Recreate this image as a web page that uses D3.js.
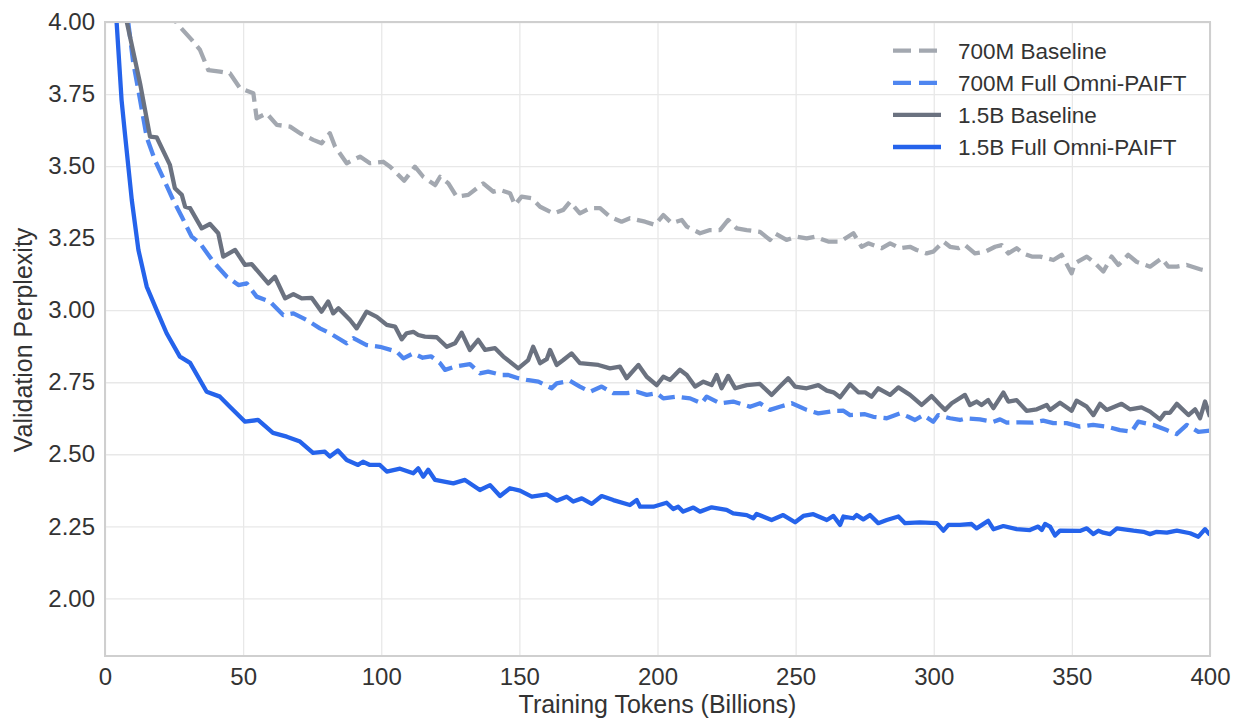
<!DOCTYPE html>
<html>
<head>
<meta charset="utf-8">
<script src="https://cdn.jsdelivr.net/npm/d3@7"></script>
<style>
  html, body { margin: 0; padding: 0; background: #ffffff; }
  svg { display: block; font-family: "Liberation Sans", Arial, Helvetica, sans-serif; }
</style>
</head>
<body>
<svg id="chart" width="1235" height="722"></svg>
<script>
// ---------------- DATA (Training tokens in billions, validation perplexity) ----------------
const seriesNames = ["700M Baseline", "700M Full Omni-PAIFT", "1.5B Baseline", "1.5B Full Omni-PAIFT"];

const base700 = [[12,4.45],[20,4.12],[26.0,3.995],[31.4,3.938],[34.4,3.903],[37.4,3.833],[41.6,3.828],[45.2,3.822],[48.9,3.770],[53.7,3.753],[54.9,3.666],[58.5,3.683],[62.2,3.643],[67.0,3.637],[70.6,3.614],[75.4,3.591],[78.4,3.579],[81.4,3.614],[83.3,3.567],[87.5,3.510],[92.3,3.533],[95.9,3.510],[100.7,3.515],[103.2,3.498],[108.3,3.449],[112.2,3.498],[115.2,3.463],[119.5,3.434],[121.3,3.463],[124.3,3.440],[127.3,3.394],[131.5,3.400],[136.9,3.440],[140.6,3.411],[143.0,3.417],[146.6,3.406],[148.4,3.365],[150.8,3.394],[154.5,3.388],[157.5,3.359],[162.3,3.336],[165.9,3.348],[168.3,3.376],[171.9,3.336],[175.6,3.354],[179.2,3.354],[182.8,3.324],[187.0,3.307],[190.0,3.319],[195.5,3.307],[199.1,3.296],[202.1,3.330],[205.1,3.302],[208.8,3.313],[210.6,3.290],[215.4,3.267],[219.0,3.278],[222.6,3.278],[225.6,3.313],[228.7,3.284],[232.3,3.278],[237.1,3.272],[240.7,3.244],[242.5,3.267],[246.7,3.244],[250.4,3.255],[254.0,3.249],[257.0,3.255],[261.8,3.238],[266.1,3.238],[270.9,3.267],[273.9,3.220],[276.3,3.232],[281.2,3.215],[284.2,3.232],[287.8,3.215],[291.4,3.220],[293.8,3.209],[297.4,3.197],[299.8,3.203],[303.5,3.238],[305.9,3.220],[308.9,3.215],[311.3,3.226],[314.9,3.197],[318.6,3.203],[322.2,3.220],[324.6,3.226],[327.0,3.197],[330.0,3.215],[332.4,3.197],[335.5,3.186],[338.5,3.186],[343.3,3.174],[346.3,3.192],[349.9,3.128],[351.1,3.163],[355.4,3.186],[358.4,3.163],[361.4,3.134],[364.4,3.186],[366.8,3.157],[370.4,3.192],[373.4,3.168],[378.3,3.151],[382.5,3.180],[384.9,3.151],[388.0,3.151],[391.6,3.157],[396.4,3.142],[400,3.134]];

const full700 = [[4,4.5],[8.4,4.0],[10.2,3.86],[12.7,3.73],[15.1,3.60],[18.1,3.52],[21.1,3.458],[24.7,3.382],[27.8,3.324],[31.4,3.255],[34.4,3.232],[39.2,3.168],[44.1,3.116],[48.3,3.087],[51.3,3.093],[54.9,3.047],[59.7,3.030],[64.5,2.983],[68.2,2.989],[73.0,2.966],[77.8,2.937],[81.4,2.920],[87.5,2.885],[89.9,2.903],[94.7,2.879],[99.5,2.873],[105.6,2.856],[108.0,2.833],[111.6,2.850],[115,2.835],[118,2.840],[121.3,2.816],[123.1,2.793],[126.7,2.804],[132.1,2.813],[135.7,2.781],[138.7,2.787],[143.6,2.775],[146.0,2.775],[149.6,2.764],[152.7,2.758],[156.9,2.752],[161.7,2.729],[163.5,2.746],[168.3,2.755],[171.9,2.735],[175.6,2.717],[179.8,2.735],[184.0,2.712],[188.8,2.712],[192.5,2.717],[196.1,2.706],[199.7,2.712],[202.1,2.694],[206.9,2.700],[211.8,2.694],[216.0,2.677],[217.8,2.700],[222.6,2.677],[227.4,2.683],[233.5,2.665],[237.1,2.677],[240.7,2.654],[244.3,2.665],[248.6,2.677],[254.0,2.654],[258.2,2.642],[263.7,2.650],[267.3,2.651],[269.7,2.636],[275.1,2.639],[278.1,2.630],[283.0,2.625],[287.8,2.642],[290.8,2.630],[293.2,2.619],[296.2,2.636],[299.8,2.613],[301.6,2.636],[305.9,2.625],[309.5,2.619],[311.9,2.625],[316.7,2.621],[321.6,2.613],[324.0,2.621],[326.4,2.610],[331.2,2.611],[336.0,2.610],[339.6,2.617],[343.3,2.608],[348.1,2.608],[352.9,2.596],[357.7,2.602],[362.6,2.596],[367.4,2.584],[371.6,2.578],[374.0,2.613],[379.4,2.602],[384.3,2.584],[387.9,2.570],[391.6,2.602],[395.8,2.578],[400,2.582]];

const base15 = [[4,4.45],[7.9,4.0],[12.7,3.787],[16.3,3.602],[18.7,3.600],[23.5,3.504],[25.3,3.423],[27.8,3.400],[29.0,3.359],[30.8,3.354],[35.0,3.284],[38.0,3.299],[41.0,3.267],[42.8,3.186],[47.1,3.209],[50.7,3.157],[53.1,3.160],[59.1,3.093],[61.5,3.116],[65.2,3.041],[68.2,3.056],[71.2,3.041],[74.8,3.043],[78.4,2.995],[80.8,3.030],[82.6,2.989],[84.5,3.007],[88.7,2.966],[91.1,2.937],[94.7,2.995],[98.4,2.977],[102.0,2.949],[105.0,2.943],[107.4,2.899],[109.2,2.920],[111.6,2.925],[113.4,2.914],[115.8,2.908],[120.1,2.906],[123.7,2.873],[126.7,2.885],[129.1,2.922],[132.1,2.862],[135.1,2.897],[137.6,2.862],[141.2,2.868],[144.2,2.839],[149.6,2.798],[153.2,2.827],[155.0,2.873],[157.5,2.816],[159.9,2.830],[161.1,2.862],[163.5,2.810],[165.9,2.827],[168.9,2.850],[171.9,2.816],[178.6,2.810],[182.8,2.798],[186.4,2.804],[188.8,2.764],[193.1,2.810],[196.1,2.769],[199.7,2.740],[202.1,2.769],[204.5,2.758],[208.1,2.793],[210.6,2.775],[213.6,2.735],[216.6,2.752],[219.6,2.740],[221.4,2.775],[223.2,2.729],[225.6,2.772],[228.1,2.729],[232.3,2.740],[237.1,2.744],[241.3,2.706],[244.3,2.735],[247.3,2.764],[249.8,2.735],[254.0,2.729],[258.2,2.740],[261.3,2.721],[263.7,2.715],[266.1,2.698],[269.7,2.743],[272.7,2.715],[275.1,2.715],[277.5,2.700],[279.9,2.729],[284.2,2.706],[287.2,2.732],[291.4,2.706],[295.6,2.671],[299.2,2.702],[302.3,2.671],[304.1,2.654],[306.5,2.677],[311.3,2.706],[313.1,2.671],[315.5,2.683],[317.3,2.671],[319.7,2.688],[321.6,2.660],[325.2,2.714],[327.0,2.683],[330.0,2.688],[333.6,2.651],[337.3,2.656],[340.9,2.671],[342.1,2.654],[345.7,2.679],[349.9,2.651],[351.7,2.686],[355.4,2.665],[357.8,2.636],[360.2,2.675],[362.6,2.654],[368.0,2.675],[371.0,2.656],[375.2,2.663],[378.3,2.648],[381.9,2.621],[383.7,2.644],[385.5,2.644],[388.0,2.675],[392.2,2.636],[394.6,2.656],[396.4,2.625],[398.2,2.683],[400,2.630]];

const full15 = [[2,4.6],[4.2,4.0],[6.0,3.729],[7.2,3.614],[9.7,3.382],[12.1,3.209],[15.1,3.082],[18.7,3.0],[22.3,2.92],[27.1,2.839],[30.8,2.817],[36.8,2.717],[41.6,2.700],[45.2,2.665],[50.7,2.613],[55.4,2.619],[60.8,2.574],[65.8,2.561],[70.6,2.544],[75.3,2.505],[79.6,2.509],[81.4,2.492],[84.3,2.513],[87.5,2.480],[91.6,2.463],[93.4,2.474],[95.9,2.463],[99.5,2.463],[102,2.440],[106.8,2.450],[111.6,2.434],[113.4,2.451],[115.2,2.422],[117.0,2.446],[119.5,2.411],[126.1,2.399],[130.3,2.411],[135.7,2.376],[139.4,2.393],[143.0,2.355],[146.6,2.382],[150.2,2.374],[154.5,2.353],[159.9,2.361],[163.5,2.339],[167.1,2.353],[169.5,2.336],[172.6,2.347],[176.2,2.328],[179.8,2.355],[184.0,2.341],[190.0,2.324],[192.5,2.341],[193.7,2.318],[198.5,2.318],[203.3,2.332],[205.7,2.310],[207.5,2.318],[209.3,2.301],[213.0,2.315],[215.4,2.301],[219.6,2.316],[225.0,2.307],[227.4,2.295],[232.3,2.289],[234.7,2.278],[235.9,2.293],[241.3,2.272],[245.5,2.289],[249.8,2.264],[252.8,2.286],[256.4,2.292],[261.3,2.272],[263.7,2.286],[266.1,2.255],[267.3,2.284],[270.9,2.278],[272.1,2.289],[274.5,2.274],[276.9,2.289],[279.9,2.261],[283.0,2.272],[287.2,2.284],[289.6,2.261],[295.0,2.264],[301.1,2.261],[303.5,2.235],[305.3,2.255],[309.5,2.255],[313.7,2.258],[315.5,2.243],[319.7,2.269],[321.6,2.240],[325.2,2.251],[330.0,2.240],[334.8,2.237],[337.8,2.249],[339.1,2.237],[340.3,2.258],[342.1,2.249],[343.9,2.218],[345.7,2.235],[352.9,2.234],[355.4,2.243],[357.8,2.223],[359.6,2.235],[361.4,2.228],[363.8,2.223],[366.3,2.243],[372.3,2.235],[375.9,2.231],[378.3,2.223],[380.7,2.231],[384.4,2.228],[388.0,2.235],[392.8,2.226],[395.8,2.214],[398.2,2.240],[400,2.220]];

const xTicks = [0, 50, 100, 150, 200, 250, 300, 350, 400];
const yTicks = [2.00, 2.25, 2.50, 2.75, 3.00, 3.25, 3.50, 3.75, 4.00];
const xLabel = "Training Tokens (Billions)";
const yLabel = "Validation Perplexity";

// ---------------- STYLE ----------------
const colors = ["#a3a8b0", "#4f86f0", "#6b7280", "#2563eb"];
const dashed = [true, true, false, false];
const seriesData = [base700, full700, base15, full15];

const plot = { left: 105, right: 1210, top: 22, bottom: 656 };

const svg = d3.select("#chart");
const x = d3.scaleLinear().domain([0, 400]).range([plot.left, plot.right]);
const y = d3.scaleLinear().domain([1.8, 4.0]).range([plot.bottom, plot.top]);

// gridlines
const grid = svg.append("g");
grid.append("g")
  .attr("transform", `translate(0,${plot.bottom})`)
  .call(d3.axisBottom(x).tickValues(xTicks).tickSize(-(plot.bottom - plot.top)).tickFormat(""))
  .call(g => g.select(".domain").remove())
  .call(g => g.selectAll("line").attr("stroke", "#e8e8e8").attr("stroke-width", 1.3));
grid.append("g")
  .attr("transform", `translate(${plot.left},0)`)
  .call(d3.axisLeft(y).tickValues(yTicks).tickSize(-(plot.right - plot.left)).tickFormat(""))
  .call(g => g.select(".domain").remove())
  .call(g => g.selectAll("line").attr("stroke", "#e8e8e8").attr("stroke-width", 1.3));

// clip
svg.append("clipPath").attr("id", "clip")
  .append("rect")
  .attr("x", plot.left).attr("y", plot.top)
  .attr("width", plot.right - plot.left).attr("height", plot.bottom - plot.top);

const line = d3.line().x(d => x(d[0])).y(d => y(d[1]));

const lines = svg.append("g").attr("clip-path", "url(#clip)");
seriesData.forEach((data, i) => {
  lines.append("path")
    .datum(data)
    .attr("d", line)
    .attr("fill", "none")
    .attr("stroke", colors[i])
    .attr("stroke-width", 4.3)
    .attr("stroke-linejoin", "round")
    .attr("stroke-linecap", "butt")
    .attr("stroke-dasharray", dashed[i] ? "17,7" : null);
});

// frame
svg.append("rect")
  .attr("x", plot.left).attr("y", plot.top)
  .attr("width", plot.right - plot.left).attr("height", plot.bottom - plot.top)
  .attr("fill", "none").attr("stroke", "#cfcfcf").attr("stroke-width", 2);

// axes labels
const xAxis = svg.append("g")
  .attr("transform", `translate(0,${plot.bottom})`)
  .call(d3.axisBottom(x).tickValues(xTicks).tickSize(0).tickPadding(12).tickFormat(d3.format("d")));
xAxis.select(".domain").remove();
xAxis.selectAll("text").attr("font-size", 24).attr("fill", "#333333")
  .attr("font-family", "'Liberation Sans', Arial, sans-serif");

const yAxis = svg.append("g")
  .attr("transform", `translate(${plot.left},0)`)
  .call(d3.axisLeft(y).tickValues(yTicks).tickSize(0).tickPadding(10).tickFormat(d3.format(".2f")));
yAxis.select(".domain").remove();
yAxis.selectAll("text").attr("font-size", 24).attr("fill", "#333333")
  .attr("font-family", "'Liberation Sans', Arial, sans-serif");

svg.append("text")
  .attr("x", (plot.left + plot.right) / 2).attr("y", 713)
  .attr("text-anchor", "middle").attr("font-size", 25).attr("fill", "#333333")
  .text(xLabel);

svg.append("text")
  .attr("transform", `translate(32,340) rotate(-90)`)
  .attr("text-anchor", "middle").attr("font-size", 25).attr("fill", "#333333")
  .text(yLabel);

// legend
const legend = svg.append("g");
seriesNames.forEach((name, i) => {
  const ry = 50.7 + i * 32.1;
  legend.append("line")
    .attr("x1", 893).attr("x2", 941).attr("y1", ry).attr("y2", ry)
    .attr("stroke", colors[i]).attr("stroke-width", 4.3)
    .attr("stroke-dasharray", dashed[i] ? "18,8" : null);
  legend.append("text")
    .attr("x", 958).attr("y", ry).attr("dy", "0.35em")
    .attr("font-size", 22.5).attr("fill", "#333333")
    .text(name);
});
</script>
</body>
</html>
